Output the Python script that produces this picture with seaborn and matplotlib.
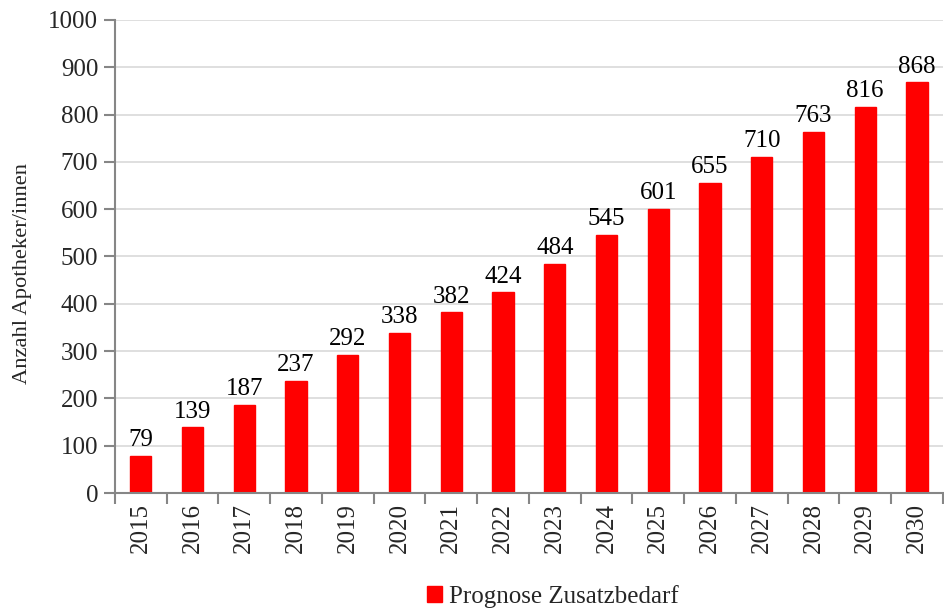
import matplotlib
matplotlib.use("Agg")
import matplotlib.pyplot as plt
import seaborn as sns
import pandas as pd
import numpy as np
from matplotlib.ticker import FixedLocator, MultipleLocator
from matplotlib.patches import Patch

years = ["2015", "2016", "2017", "2018", "2019", "2020", "2021", "2022",
         "2023", "2024", "2025", "2026", "2027", "2028", "2029", "2030"]
values = [79, 139, 187, 237, 292, 338, 382, 424, 484, 545, 601, 655, 710, 763, 816, 868]
series_name = "Prognose Zusatzbedarf"
ylabel = "Anzahl Apotheker/innen"

sns.set_style("white")
plt.rcParams['font.family'] = ['Liberation Serif', 'DejaVu Serif']

df = pd.DataFrame({"Jahr": years, "Wert": values})

fig = plt.figure(figsize=(9.45, 6.12), dpi=100)
ax = fig.add_axes([0.1217, 0.1944, 0.876, 0.773])

sns.barplot(data=df, x="Jahr", y="Wert", color="#ff0000", width=0.41,
            saturation=1, ax=ax, edgecolor="#ff0000")

ax.set_ylim(0, 1000)
ax.set_xlim(-0.5, len(years) - 0.5)
ax.yaxis.set_major_locator(MultipleLocator(100))
ax.grid(axis="y", color="#d9d9d9", linewidth=1.2)
ax.set_axisbelow(True)

for i, v in enumerate(values):
    ax.text(i, v + 10, str(v), ha="center", va="bottom", fontsize=18, color="black")

for s in ["top", "right"]:
    ax.spines[s].set_visible(False)
for s in ["left", "bottom"]:
    ax.spines[s].set_color("#868686")
    ax.spines[s].set_linewidth(1.5)

ax.tick_params(axis="y", which="major", direction="out", length=8, width=1.5,
               color="#868686", labelsize=18, pad=4, left=True)
ax.tick_params(axis="x", which="major", length=0, labelsize=18, rotation=90, pad=7)
ax.xaxis.set_minor_locator(FixedLocator(np.arange(-0.5, len(years), 1.0)))
ax.tick_params(axis="x", which="minor", direction="out", length=8, width=1.5,
               color="#868686", bottom=True)

ax.set_xlabel("")
ax.set_ylabel(ylabel, fontsize=16.2)
ax.yaxis.set_label_coords(-0.1, 0.463)

handle = Patch(facecolor="#ff0000", edgecolor="#ff0000")
fig.legend([handle], [series_name], loc="center", bbox_to_anchor=(0.585, 0.025),
           frameon=False, fontsize=18, handlelength=0.6, handleheight=0.6,
           handletextpad=0.3)

fig.savefig("out.png", dpi=100)
